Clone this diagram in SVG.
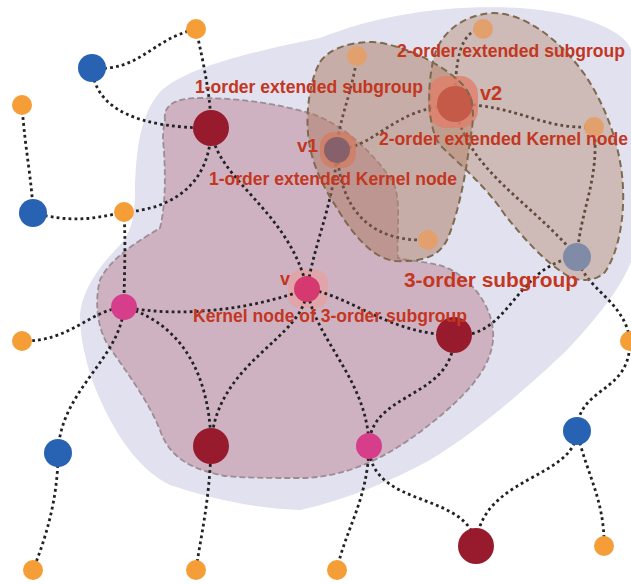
<svg xmlns="http://www.w3.org/2000/svg" width="631" height="584" viewBox="0 0 631 584">
<defs>
<style>
.e{fill:none;stroke:#222222;stroke-width:2.8;stroke-dasharray:2.8 3.2}
.or{fill:#f59d36}
.bl{fill:#2863b3}
.dr{fill:#971b2c}
.mg{fill:#d63d8b}
.fo{fill:#e2a06c}
.lbl{font-family:"Liberation Sans",Arial,sans-serif;font-weight:bold;fill:#c3361f;font-size:17.5px}
.bd{fill:none;stroke:#7d6a4f;stroke-width:2;stroke-dasharray:7 4}
</style>
<path id="leftBrown" d="M 320 62 C 330 48, 350 42, 373 42 C 400 44, 440 62, 462 84 C 476 98, 474 120, 470 140 C 466 175, 458 215, 447 240 C 438 258, 420 262, 395 261 C 370 258, 350 230, 335 205 C 322 185, 310 160, 308 133 C 306 110, 310 80, 320 62 Z"/>
<path id="rightBrown" d="M 434 57 C 440 35, 460 15, 493 13 C 525 13, 560 40, 585 75 C 605 105, 618 140, 622 175 C 626 210, 620 250, 605 272 C 595 282, 580 282, 568 276 C 545 262, 525 240, 505 215 C 485 185, 460 165, 440 145 C 428 128, 426 90, 434 57 Z"/>
</defs>
<rect width="631" height="584" fill="#ffffff"/>
<g id="region-lavender">
<path d="M 320 38 C 380 14, 450 4, 520 8 C 580 12, 625 30, 631 50 L 631 262 C 620 290, 595 320, 567 350 C 530 385, 480 430, 430 460 C 390 482, 345 500, 300 510 C 250 508, 210 498, 170 485 C 140 470, 120 440, 105 410 C 90 380, 80 345, 80 315 C 82 290, 100 265, 120 245 C 132 232, 135 215, 135 190 C 136 150, 140 115, 160 92 C 185 68, 250 52, 320 38 Z" fill="#e1e1ef"/>
</g>
<g id="region-3-order">
<path d="M 165 120 C 163 105, 175 98, 200 98 C 240 98, 280 104, 312 114 C 345 125, 375 155, 393 182 C 402 200, 396 235, 398 258 C 415 262, 440 262, 455 272 C 480 288, 495 315, 493 340 C 490 375, 455 405, 420 432 C 385 458, 345 478, 300 478 C 270 478, 245 478, 225 476 C 195 470, 170 460, 160 430 C 148 400, 125 370, 108 345 C 96 325, 95 300, 100 280 C 110 258, 140 240, 160 228 C 167 200, 165 160, 163 140 C 163 130, 164 125, 165 120 Z" fill="#cfb2c2" stroke="#9c8c94" stroke-width="1.8" stroke-dasharray="6 3"/>
</g>
<g id="halo-v">
<rect x="288" y="270" width="40" height="38" rx="12" fill="#e2a2a4" opacity="0.85"/>
</g>
<g id="connectors">
<path class="e" d="M 92 68 C 140 72, 150 40, 196 29"/>
<path class="e" d="M 196 29 C 205 70, 211 100, 211 128"/>
<path class="e" d="M 92 68 C 95 110, 140 128, 211 128"/>
<path class="e" d="M 22 105 C 25 150, 32 180, 33 213"/>
<path class="e" d="M 33 213 C 70 222, 90 220, 124 212"/>
<path class="e" d="M 124 212 C 170 210, 211 185, 211 128"/>
<path class="e" d="M 124 212 C 126 250, 124 280, 124 307"/>
<path class="e" d="M 211 128 C 215 180, 290 210, 307 289"/>
<path class="e" d="M 307 289 C 315 240, 335 200, 337 150"/>
<path class="e" d="M 124 307 C 180 318, 250 310, 307 289"/>
<path class="e" d="M 124 307 C 90 310, 70 342, 22 341"/>
<path class="e" d="M 124 307 C 120 360, 60 390, 58 453"/>
<path class="e" d="M 58 453 C 58 500, 45 540, 33 570"/>
<path class="e" d="M 124 307 C 170 320, 210 360, 211 446"/>
<path class="e" d="M 307 289 C 305 340, 215 360, 211 446"/>
<path class="e" d="M 211 446 C 210 500, 200 540, 196 570"/>
<path class="e" d="M 307 289 C 315 340, 368 380, 369 446"/>
<path class="e" d="M 307 289 C 350 295, 390 335, 454 335"/>
<path class="e" d="M 454 335 C 455 400, 370 390, 369 446"/>
<path class="e" d="M 454 335 C 510 340, 515 265, 577 257"/>
<path class="e" d="M 577 257 C 585 290, 625 300, 630 341"/>
<path class="e" d="M 630 341 C 630 395, 578 385, 577 431"/>
<path class="e" d="M 577 431 C 575 480, 480 475, 476 546"/>
<path class="e" d="M 577 431 C 585 470, 605 500, 604 546"/>
<path class="e" d="M 369 446 C 370 510, 470 490, 476 546"/>
<path class="e" d="M 369 446 C 368 500, 345 530, 337 570"/>
<path class="e" d="M 357 56 C 352 95, 338 120, 337 150"/>
<path class="e" d="M 337 150 C 380 145, 390 110, 455 104"/>
<path class="e" d="M 337 150 C 340 210, 370 242, 428 240"/>
<path class="e" d="M 455 104 C 455 60, 460 30, 483 29"/>
<path class="e" d="M 455 104 C 520 105, 540 130, 594 127"/>
<path class="e" d="M 455 104 C 465 170, 530 200, 577 257"/>
<path class="e" d="M 594 127 C 600 180, 580 210, 577 257"/>
</g>
<g id="n-o1"><circle class="or" cx="196" cy="29" r="10"/></g>
<g id="n-b1"><circle class="bl" cx="92" cy="68" r="14"/></g>
<g id="n-o2"><circle class="or" cx="22" cy="105" r="10"/></g>
<g id="n-r1"><circle class="dr" cx="211" cy="128" r="18"/></g>
<g id="n-b2"><circle class="bl" cx="33" cy="213" r="14"/></g>
<g id="n-o3"><circle class="or" cx="124" cy="212" r="10"/></g>
<g id="n-m1"><circle class="mg" cx="124" cy="307" r="13"/></g>
<g id="n-o4"><circle class="or" cx="22" cy="341" r="10"/></g>
<g id="n-v"><circle cx="307" cy="289" r="13" fill="#d6396f"/></g>
<g id="n-r2"><circle class="dr" cx="454" cy="335" r="18"/></g>
<g id="n-o5"><circle class="or" cx="630" cy="341" r="10"/></g>
<g id="n-b3"><circle class="bl" cx="58" cy="453" r="14"/></g>
<g id="n-r3"><circle class="dr" cx="211" cy="446" r="18"/></g>
<g id="n-m2"><circle class="mg" cx="369" cy="446" r="13"/></g>
<g id="n-b4"><circle class="bl" cx="577" cy="431" r="14"/></g>
<g id="n-r4"><circle class="dr" cx="476" cy="546" r="18"/></g>
<g id="n-o6"><circle class="or" cx="604" cy="546" r="10"/></g>
<g id="n-o7"><circle class="or" cx="33" cy="570" r="10"/></g>
<g id="n-o8"><circle class="or" cx="196" cy="570" r="10"/></g>
<g id="n-o9"><circle class="or" cx="337" cy="570" r="10"/></g>
<g id="region-1-order-fill">
<use href="#leftBrown" fill="#ad7a60" fill-opacity="0.5"/>
</g>
<g id="region-2-order-fill">
<use href="#rightBrown" fill="#b48567" fill-opacity="0.42"/>
</g>
<g id="n-v1">
<rect x="320" y="132" width="36" height="36" rx="14" fill="#d27c62" opacity="0.8"/>
<circle cx="337" cy="150" r="13" fill="#86606a"/>
</g>
<g id="n-v2">
<rect x="428" y="76" width="50" height="52" rx="18" fill="#e07f6c" opacity="0.8"/>
<circle cx="455" cy="104" r="18" fill="#c55a48"/>
</g>
<g id="n-f1"><circle class="fo" cx="357" cy="56" r="10"/></g>
<g id="n-f2"><circle class="fo" cx="483" cy="29" r="10"/></g>
<g id="n-f3"><circle class="fo" cx="594" cy="127" r="10"/></g>
<g id="n-f4"><circle class="fo" cx="428" cy="240" r="10"/></g>
<g id="n-gb"><circle cx="577" cy="257" r="14" fill="#808ba8"/></g>
<g id="region-borders">
<use href="#leftBrown" class="bd"/>
<use href="#rightBrown" class="bd"/>
</g>
<g id="labels">
<text class="lbl" x="195" y="93" textLength="228" lengthAdjust="spacingAndGlyphs">1-order extended subgroup</text>
<text class="lbl" x="397" y="57" textLength="228" lengthAdjust="spacingAndGlyphs">2-order extended subgroup</text>
<text class="lbl" x="480" y="100" style="font-size:20px">v2</text>
<text class="lbl" x="379" y="145" textLength="249" lengthAdjust="spacingAndGlyphs">2-order extended Kernel node</text>
<text class="lbl" x="297" y="152" style="font-size:19px">v1</text>
<text class="lbl" x="209" y="185" textLength="248" lengthAdjust="spacingAndGlyphs">1-order extended Kernel node</text>
<text class="lbl" x="280" y="285" style="font-size:18px">v</text>
<text class="lbl" x="193" y="322" textLength="274" lengthAdjust="spacingAndGlyphs">Kernel node of 3-order subgroup</text>
<text class="lbl" x="404" y="287" style="font-size:20.5px" textLength="174" lengthAdjust="spacingAndGlyphs">3-order subgroup</text>
</g>
</svg>
